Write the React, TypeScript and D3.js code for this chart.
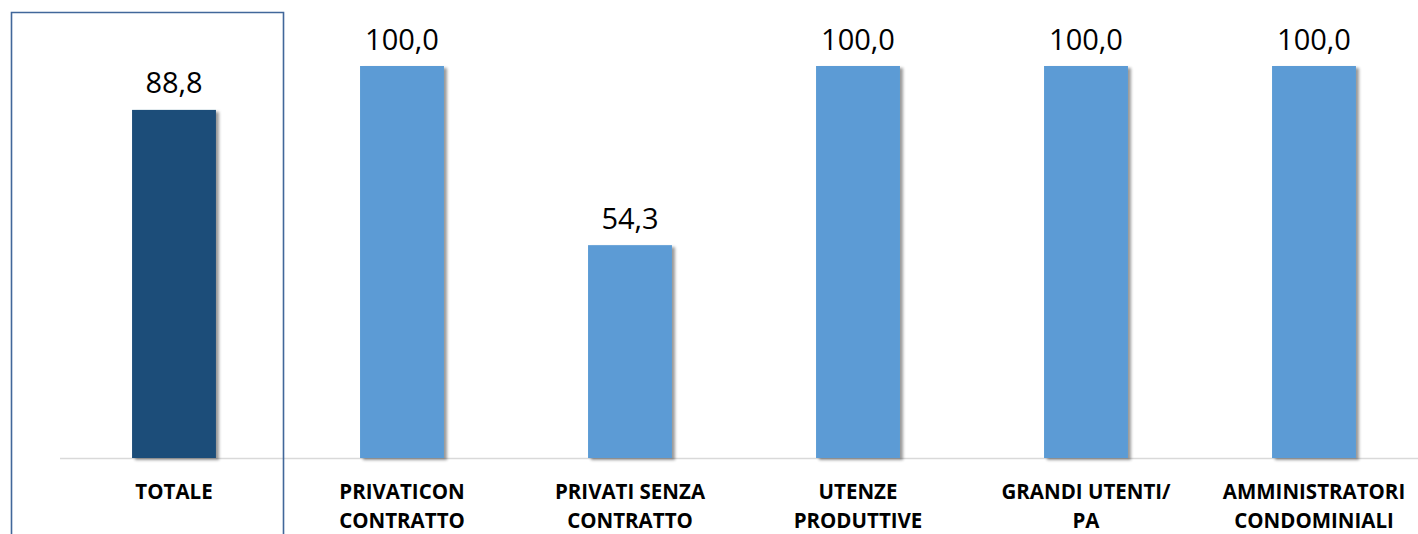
import React from "react";
import * as d3 from "d3";

const categories = [
  ["TOTALE"],
  ["PRIVATICON", "CONTRATTO"],
  ["PRIVATI SENZA", "CONTRATTO"],
  ["UTENZE", "PRODUTTIVE"],
  ["GRANDI UTENTI/", "PA"],
  ["AMMINISTRATORI", "CONDOMINIALI"],
];
const values = [88.8, 100.0, 54.3, 100.0, 100.0, 100.0];
const valueLabels = ["88,8", "100,0", "54,3", "100,0", "100,0", "100,0"];

const W = 1418;
const H = 534;

export default function App() {
  const idx = categories.map((_, i) => String(i));
  const x = d3.scaleBand().domain(idx).range([60, 1428]).paddingInner(0.632).paddingOuter(0.316);
  const y = d3.scaleLinear().domain([0, 100]).range([458, 66]);
  const font = "'Open Sans', 'Liberation Sans', sans-serif";
  return (
    <svg width={W} height={H} style={{ position: "absolute", left: 0, top: 0, background: "#fff" }}>
      <defs>
        <filter id="sh" x="-20%" y="-10%" width="150%" height="130%">
          <feDropShadow dx="3" dy="2" stdDeviation="1.8" floodColor="#000" floodOpacity="0.4" />
        </filter>
      </defs>
      <rect x={0} y={0} width={W} height={H} fill="#fff" />
      <line x1={60} x2={W} y1={458.5} y2={458.5} stroke="#d9d9d9" strokeWidth={1.5} />
      {values.map((v, i) => (
        <rect
          key={i}
          x={x(String(i))}
          y={y(v)}
          width={x.bandwidth()}
          height={y(0) - y(v)}
          fill={i === 0 ? "#1f4e79" : "#5b9bd5"}
          filter="url(#sh)"
        />
      ))}
      {values.map((v, i) => (
        <text
          key={"v" + i}
          x={(x(String(i)) as number) + x.bandwidth() / 2}
          y={y(v) - 16.5}
          textAnchor="middle"
          fontFamily={font}
          fontSize={29}
          fill="#000"
        >
          {valueLabels[i]}
        </text>
      ))}
      {categories.map((lines, i) => (
        <text
          key={"c" + i}
          x={(x(String(i)) as number) + x.bandwidth() / 2}
          textAnchor="middle"
          fontFamily={font}
          fontWeight="bold"
          fontSize={20.5}
          fill="#000"
        >
          {lines.map((l, j) => (
            <tspan key={j} x={(x(String(i)) as number) + x.bandwidth() / 2} y={498.5 + j * 29}>
              {l}
            </tspan>
          ))}
        </text>
      ))}
      <path d={`M11.5,${H} V12.5 H283.5 V${H}`} fill="none" stroke="#41679a" strokeWidth={1.6} />
    </svg>
  );
}
